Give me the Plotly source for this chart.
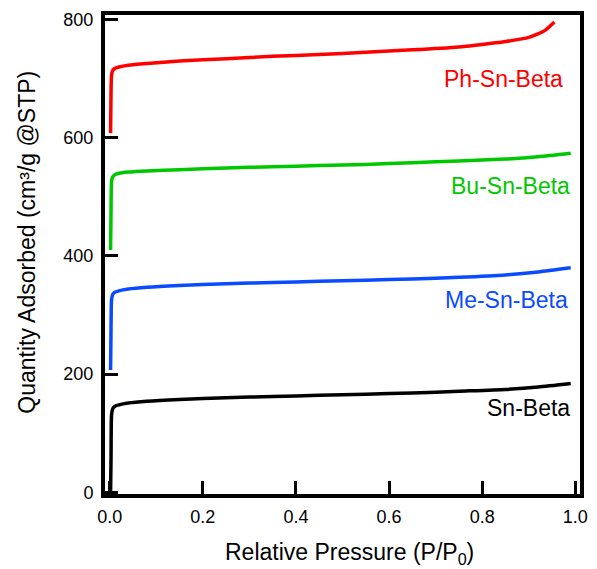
import plotly.graph_objects as go

# Relative pressure (P/P0) and quantity adsorbed (cm3/g @STP)
p_sn = [0.002, 0.003, 0.004, 0.006, 0.01, 0.02, 0.04, 0.08, 0.15, 0.25, 0.35, 0.45, 0.55, 0.65, 0.75, 0.85, 0.92, 0.99]
q_sn = [2, 60, 130, 140, 145, 148, 151, 154, 157, 160, 162, 164, 166, 168, 171, 174, 178, 184]

p_me = [0.002, 0.003, 0.004, 0.006, 0.01, 0.02, 0.04, 0.08, 0.15, 0.25, 0.35, 0.45, 0.55, 0.65, 0.75, 0.85, 0.92, 0.99]
q_me = [207, 280, 325, 334, 338, 341, 344, 347, 350, 353, 355, 357, 359, 361, 364, 368, 373, 380]

p_bu = [0.002, 0.003, 0.004, 0.006, 0.01, 0.02, 0.04, 0.08, 0.15, 0.25, 0.35, 0.45, 0.55, 0.65, 0.75, 0.85, 0.92, 0.99]
q_bu = [410, 480, 525, 533, 537, 540, 542, 544, 546, 549, 551, 553, 555, 558, 561, 564, 568, 574]

p_ph = [0.002, 0.003, 0.004, 0.006, 0.01, 0.02, 0.04, 0.08, 0.15, 0.25, 0.35, 0.45, 0.55, 0.65, 0.75, 0.8, 0.85, 0.9, 0.935, 0.955]
q_ph = [608, 680, 705, 713, 717, 720, 723, 726, 730, 734, 738, 741, 745, 749, 754, 758, 763, 770, 782, 796]

names = ["Sn-Beta", "Me-Sn-Beta", "Bu-Sn-Beta", "Ph-Sn-Beta"]
colors = ["#000000", "#0a4bff", "#00c800", "#ff0000"]
label_x = [0.993, 0.989, 0.993, 0.978]
label_y = [142, 325, 519, 700]

series = [(p_sn, q_sn), (p_me, q_me), (p_bu, q_bu), (p_ph, q_ph)]
FONT = "Liberation Sans, Arial, Helvetica, sans-serif"

fig = go.Figure()
for (px, qy), name, c in zip(series, names, colors):
    fig.add_trace(go.Scatter(x=px, y=qy, mode="lines", name=name,
                             line=dict(color=c, width=3.5, shape="spline", smoothing=0.6)))

for name, c, lx, ly in zip(names, colors, label_x, label_y):
    fig.add_annotation(x=lx, y=ly, text=name, showarrow=False, xanchor="right", yanchor="middle",
                       font=dict(size=23, color=c, family=FONT))

# axis titles as annotations for precise placement
fig.add_annotation(xref="paper", yref="paper", x=0.515, y=-0.09, yanchor="top",
                   text="Relative Pressure (P/P<sub>0</sub>)", showarrow=False,
                   font=dict(size=23, color="black", family=FONT))
fig.add_annotation(xref="paper", yref="paper", x=-0.166, y=0.525, xanchor="center", yanchor="middle",
                   textangle=-90, text="Quantity Adsorbed (cm³/g @STP)", showarrow=False,
                   font=dict(size=23, color="black", family=FONT))

axis_common = dict(showline=True, linecolor="black", linewidth=4, mirror=True,
                   ticks="inside", ticklen=13, tickwidth=3, tickcolor="black",
                   showgrid=False, zeroline=False,
                   tickfont=dict(size=18, color="black", family=FONT))

fig.update_layout(
    width=597, height=569,
    margin=dict(l=105, r=9, t=15, b=75),
    plot_bgcolor="white", paper_bgcolor="white",
    showlegend=False,
    xaxis=dict(range=[-0.01, 1.01], tickvals=[0, 0.2, 0.4, 0.6, 0.8, 1.0], tickformat=".1f",
               ticklabelstandoff=3, **axis_common),
    yaxis=dict(range=[-3, 808], tickvals=[0, 200, 400, 600, 800],
               ticklabelstandoff=4, **axis_common),
)

fig.write_html("out.html")
